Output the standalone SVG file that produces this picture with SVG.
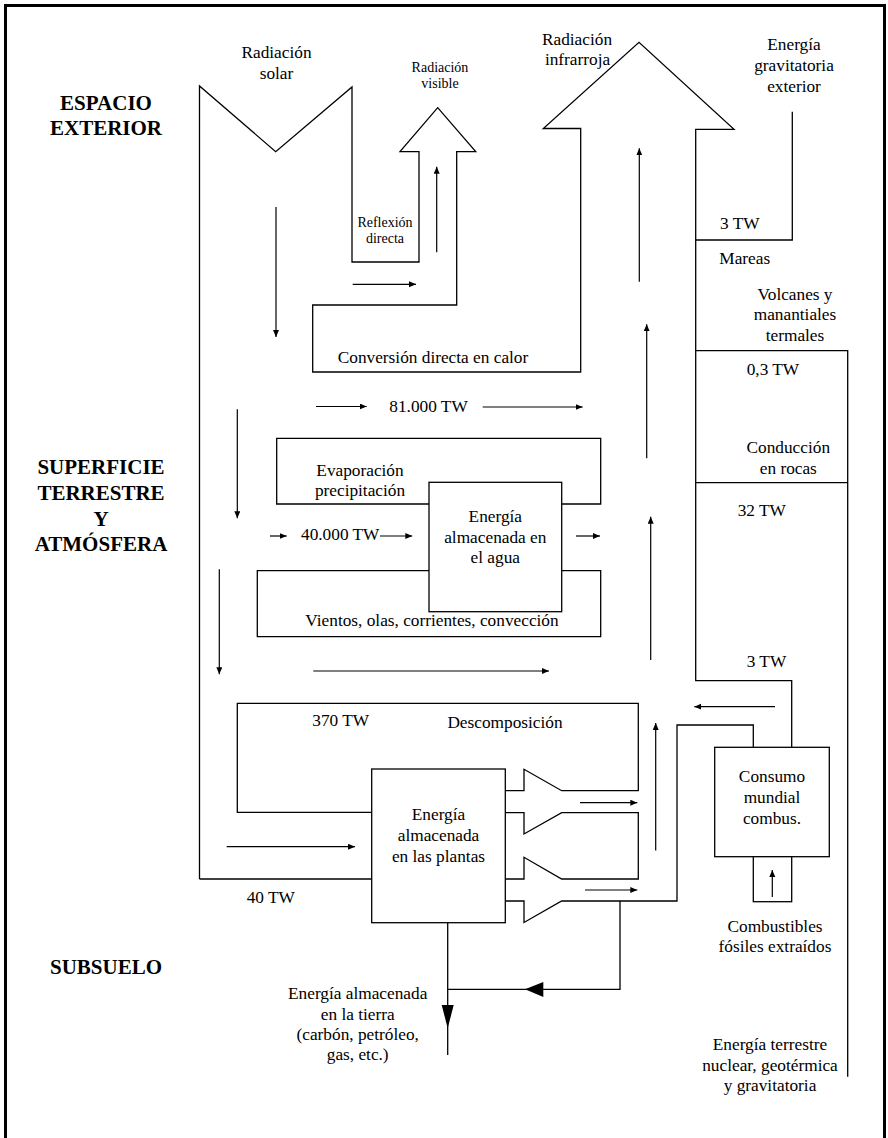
<svg xmlns="http://www.w3.org/2000/svg" width="888" height="1138" viewBox="0 0 888 1138">
<style>
.ln{fill:none;stroke:#000;stroke-width:1.3;stroke-linejoin:miter}
.box{fill:#fff;stroke:#000;stroke-width:1.3}
.ar{fill:none;stroke:#000;stroke-width:1.2;marker-end:url(#ah)}
.t{font-family:"Liberation Serif","Times New Roman",serif;font-size:17.3px;fill:#000}
.s{font-family:"Liberation Serif","Times New Roman",serif;font-size:14px;fill:#000}
.b{font-family:"Liberation Serif","Times New Roman",serif;font-size:21px;font-weight:bold;fill:#000}
.m{text-anchor:middle}
</style>
<defs>
<marker id="ah" markerUnits="userSpaceOnUse" markerWidth="8" markerHeight="7" refX="7" refY="3" orient="auto">
<path d="M0,0 L7,3 L0,6 z" fill="#000"/>
</marker>
</defs>
<rect width="888" height="1138" fill="#fff"/>
<path d="M5.5,1138 V5.5 H884.5 V1138" fill="none" stroke="#000" stroke-width="3"/>

<g id="regions">
<text class="b m" x="106" y="110">ESPACIO</text>
<text class="b m" x="106" y="135">EXTERIOR</text>
<text class="b m" x="101" y="474">SUPERFICIE</text>
<text class="b m" x="101" y="500">TERRESTRE</text>
<text class="b m" x="101" y="525.5">Y</text>
<text class="b m" x="101" y="550.5">ATMÓSFERA</text>
<text class="b m" x="106" y="974">SUBSUELO</text>
</g>

<g id="connectors">
<path class="ln" d="M199.5,879 V86 L275.7,151.7 L352,87 V262 H419 V151.7 H400 L437.7,107.7 L475.7,151.7 H456.7 V305 H312.7 V372 H580.7 V128.5 H543.3 L639,42.3 L734,129.3 H695.7 V680.7 H791.7 V747.3"/>
<path class="ln" d="M199.5,879 H371.7"/>
<path class="ln" d="M695.7,240 H792.3 V111.7"/>
<path class="ln" d="M695.7,350.7 H847.7 V1076.7"/>
<path class="ln" d="M695.7,482.7 H847.7"/>
<path class="ln" d="M429,504 H276.7 V438.3 H600.7 V504 H561.7"/>
<path class="ln" d="M429,570.7 H257.3 V636.7 H600.7 V570.7 H561.7"/>
<path class="ln" d="M371.7,812.3 H237.3 V703.3 H638.3 V790.7 H561.7 L524,769.3 V790.7 H505.7"/>
<path class="ln" d="M505.7,812.7 H524 V834 L561.7,812.7 H638.3 V879 H561.7 L524,857.3 V879 H505.7"/>
<path class="ln" d="M505.7,901 H524 V922.5 L561.7,901 H677 V725 H753.3 V747.3"/>
<path class="ln" d="M620,901 V989.3 H447.7"/>
<path class="ln" d="M447.7,922.7 V1055"/>
<polygon points="441.7,1005 453.7,1005 447.7,1028.3" fill="#000"/>
<polygon points="543.3,982 543.3,997 525,989.3" fill="#000"/>
<path class="ar" d="M276,207 V337"/>
<path class="ar" d="M352.7,284.3 H416"/>
<path class="ar" d="M436.7,252.3 V166.7"/>
<path class="ar" d="M639.3,281.7 V148.3"/>
<path class="ar" d="M316,406.5 H366.7"/>
<path class="ar" d="M482.7,407 H582.7"/>
<path class="ar" d="M237.3,409.3 V518.3"/>
<path class="ar" d="M270,536 H286.7"/>
<path class="ar" d="M380,536 H412.3"/>
<path class="ar" d="M576,536 H600"/>
<path class="ar" d="M646.7,458.3 V324.3"/>
<path class="ar" d="M650.7,660 V516.7"/>
<path class="ar" d="M219.3,569.3 V674.3"/>
<path class="ar" d="M313.3,671 H549"/>
<path class="ar" d="M655.7,850.5 V723"/>
<path class="ar" d="M775,706.7 H694.3"/>
<path class="ar" d="M226.7,846.7 H355"/>
<path class="ar" d="M580,802.7 H637.3"/>
<path class="ar" d="M585,890 H637.3"/>
<path class="ar" d="M772.3,897 V870"/>
</g>

<g id="solar">
<text class="t m" x="276.5" y="57.5">Radiación</text>
<text class="t m" x="276.5" y="78.5">solar</text>
</g>
<g id="visible">
<text class="s m" x="440" y="71.5">Radiación</text>
<text class="s m" x="440" y="88">visible</text>
</g>
<g id="reflexion">
<text class="s m" x="385" y="226.5">Reflexión</text>
<text class="s m" x="385" y="243.3">directa</text>
</g>
<g id="infrarroja">
<text class="t m" x="577" y="45">Radiación</text>
<text class="t m" x="577.5" y="65">infrarroja</text>
</g>
<g id="gravitatoria">
<text class="t m" x="794" y="50">Energía</text>
<text class="t m" x="794" y="71">gravitatoria</text>
<text class="t m" x="794" y="92">exterior</text>
<text class="t" x="720" y="228.5">3 TW</text>
<text class="t" x="719.3" y="263.5">Mareas</text>
</g>
<g id="volcanes">
<text class="t m" x="795" y="299.5">Volcanes y</text>
<text class="t m" x="795" y="320">manantiales</text>
<text class="t m" x="795" y="341">termales</text>
<text class="t" x="746.7" y="375">0,3 TW</text>
</g>
<g id="conduccion">
<text class="t m" x="788.3" y="452.7">Conducción</text>
<text class="t m" x="788.3" y="474">en rocas</text>
<text class="t" x="737.7" y="516">32 TW</text>
<text class="t" x="746.7" y="667.3">3 TW</text>
</g>
<g id="conversion">
<text class="t m" x="433" y="362.7">Conversión directa en calor</text>
<text class="t" x="389.3" y="411.7">81.000 TW</text>
</g>
<g id="evaporacion">
<text class="t m" x="360" y="476">Evaporación</text>
<text class="t m" x="360" y="495.5">precipitación</text>
<text class="t" x="301" y="540">40.000 TW</text>
</g>
<g id="agua">
<rect class="box" x="429" y="482.3" width="132.7" height="129.4"/>
<text class="t m" x="495.3" y="521.7">Energía</text>
<text class="t m" x="495.3" y="542.7">almacenada en</text>
<text class="t m" x="495.3" y="562.7">el agua</text>
</g>
<g id="vientos">
<text class="t m" x="432" y="626">Vientos, olas, corrientes, convección</text>
</g>
<g id="descomposicion">
<text class="t" x="312.3" y="725.7">370 TW</text>
<text class="t m" x="505" y="728.3">Descomposición</text>
</g>
<g id="plantas">
<rect class="box" x="371.7" y="769" width="133.6" height="153.7"/>
<text class="t m" x="438.5" y="820">Energía</text>
<text class="t m" x="438.5" y="841">almacenada</text>
<text class="t m" x="438.5" y="861.7">en las plantas</text>
<text class="t" x="246.7" y="903.3">40 TW</text>
</g>
<g id="consumo">
<rect class="box" x="714.7" y="747.3" width="114.6" height="109.4"/>
<text class="t m" x="772" y="781.7">Consumo</text>
<text class="t m" x="772" y="802.7">mundial</text>
<text class="t m" x="772" y="824">combus.</text>
</g>
<g id="extraidos">
<rect class="box" x="753.3" y="856.7" width="38.4" height="45"/>
<path class="ar" d="M772.3,897 V870"/>
<text class="t m" x="775" y="931.7">Combustibles</text>
<text class="t m" x="775" y="951.7">fósiles extraídos</text>
</g>
<g id="tierra">
<text class="t m" x="357.7" y="999.3">Energía almacenada</text>
<text class="t m" x="357.7" y="1020">en la tierra</text>
<text class="t m" x="357.7" y="1040">(carbón, petróleo,</text>
<text class="t m" x="357.7" y="1060">gas, etc.)</text>
</g>
<g id="terrestre">
<text class="t m" x="770" y="1050">Energía terrestre</text>
<text class="t m" x="770" y="1071">nuclear, geotérmica</text>
<text class="t m" x="770" y="1091">y gravitatoria</text>
</g>
</svg>
